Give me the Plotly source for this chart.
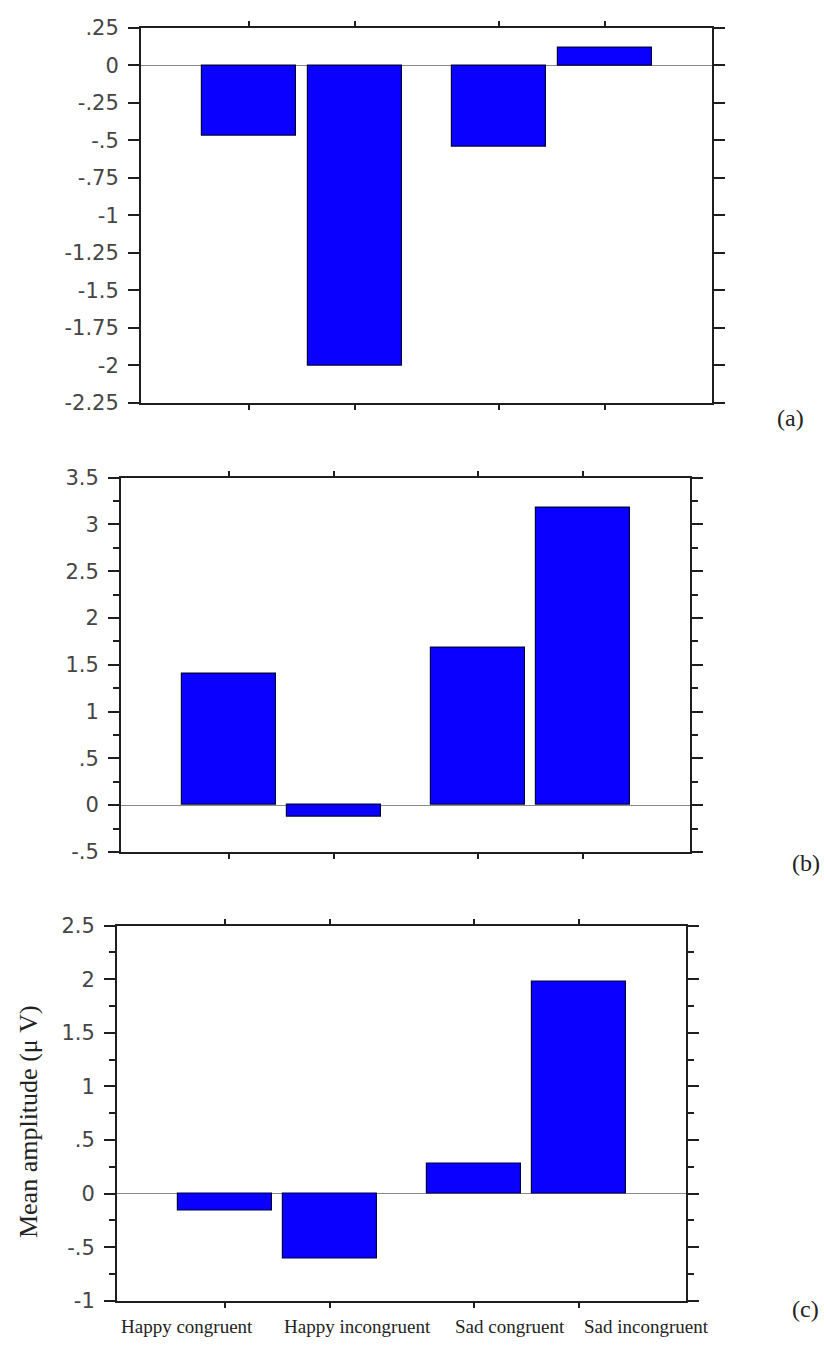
import plotly.graph_objects as go

# ---------------- data ----------------
categories = ["Happy congruent", "Happy incongruent", "Sad congruent", "Sad incongruent"]
x_pos = [1, 2, 3.36, 4.36]          # category slots (gap between Happy and Sad groups)

values_a = [-0.47, -2.0, -0.54, 0.12]
values_b = [1.40, -0.12, 1.68, 3.18]
values_c = [-0.16, -0.61, 0.28, 1.98]

ticks_a = [0.25, 0, -0.25, -0.5, -0.75, -1, -1.25, -1.5, -1.75, -2, -2.25]
ticktext_a = [".25", "0", "-.25", "-.5", "-.75", "-1", "-1.25", "-1.5", "-1.75", "-2", "-2.25"]
ticks_b = [3.5, 3, 2.5, 2, 1.5, 1, 0.5, 0, -0.5]
ticktext_b = ["3.5", "3", "2.5", "2", "1.5", "1", ".5", "0", "-.5"]
ticks_c = [2.5, 2, 1.5, 1, 0.5, 0, -0.5, -1]
ticktext_c = ["2.5", "2", "1.5", "1", ".5", "0", "-.5", "-1"]

panel_labels = ["(a)", "(b)", "(c)"]
y_title = "Mean amplitude (\u03bc V)"

# ---------------- style ----------------
BAR_FILL = "#0a00ff"
BAR_LINE = "#000040"
AXIS_COL = "#1e1e1e"
TICK_FONT = dict(family="DejaVu Sans", size=21, color="#454545")
SERIF = "Liberation Serif"

W, H = 824, 1359
# panel geometry in pixels: (left, right, top, bottom)
geom = [(141, 712, 16, 398), (121, 690, 474, 855), (117, 686, 930, 1312)]

fig = go.Figure()
vals = [values_a, values_b, values_c]
for i, v in enumerate(vals):
    fig.add_trace(go.Bar(
        x=x_pos, y=v, width=0.89,
        marker=dict(color=BAR_FILL, line=dict(color=BAR_LINE, width=1.2)),
        xaxis=f"x{'' if i == 0 else i + 1}", yaxis=f"y{'' if i == 0 else i + 1}",
        showlegend=False, hoverinfo="x+y",
    ))

yranges = [[-2.25, 0.25], [-0.5, 3.5], [-1, 2.5]]
yticks = [(ticks_a, ticktext_a, None), (ticks_b, ticktext_b, 0.25), (ticks_c, ticktext_c, 0.25)]

layout = dict(
    width=W, height=H, margin=dict(l=0, r=0, t=0, b=0),
    paper_bgcolor="white", plot_bgcolor="white", bargap=0,
)
for i, (l, r, t, b) in enumerate(geom):
    sx = "" if i == 0 else str(i + 1)
    xa = dict(
        domain=[l / W, r / W], range=[-0.02, 5.37], anchor=f"y{sx}",
        tickmode="array", tickvals=x_pos, showticklabels=False,
        ticks="outside", ticklen=5, tickwidth=1.5, tickcolor=AXIS_COL,
        showline=True, linecolor=AXIS_COL, linewidth=2, mirror="ticks",
        showgrid=False, zeroline=False, fixedrange=True,
    )
    tv, tt, minor = yticks[i]
    ya = dict(
        domain=[1 - b / H, 1 - t / H], range=yranges[i], anchor=f"x{sx}",
        tickmode="array", tickvals=tv, ticktext=tt, tickfont=TICK_FONT,
        ticks="outside", ticklen=11, tickwidth=2, tickcolor=AXIS_COL,
        showline=True, linecolor=AXIS_COL, linewidth=2, mirror="ticks",
        showgrid=False, zeroline=True, zerolinecolor="#8a8a8a", zerolinewidth=1.2,
        ticklabelstandoff=5, fixedrange=True,
    )
    if minor:
        ya["minor"] = dict(tickmode="linear", tick0=0, dtick=minor, ticks="outside",
                           ticklen=6, tickwidth=2, tickcolor=AXIS_COL, showgrid=False)
    layout[f"xaxis{sx}"] = xa
    layout[f"yaxis{sx}"] = ya

fig.update_layout(**layout)

# category labels under the bottom panel
label_x_px = [187, 357, 510, 646]
for name, px in zip(categories, label_x_px):
    fig.add_annotation(text=name, x=px / W, y=1 - 1338 / H, xref="paper", yref="paper",
                       showarrow=False, xanchor="center", yanchor="middle",
                       font=dict(family=SERIF, size=19, color="#222"))

# panel letters
panel_pos = [(790, 413), (806, 866), (805, 1320)]
for lab, (px, py) in zip(panel_labels, panel_pos):
    fig.add_annotation(text=lab, x=px / W, y=1 - py / H, xref="paper", yref="paper",
                       showarrow=False, xanchor="center", yanchor="middle",
                       font=dict(family=SERIF, size=24, color="#222"))

# y-axis title of the bottom panel
fig.add_annotation(text=y_title, x=28 / W, y=1 - 1130 / H, xref="paper", yref="paper",
                   showarrow=False, textangle=-90, xanchor="center", yanchor="middle",
                   font=dict(family=SERIF, size=26, color="#222"))

fig.write_html("out.html")
